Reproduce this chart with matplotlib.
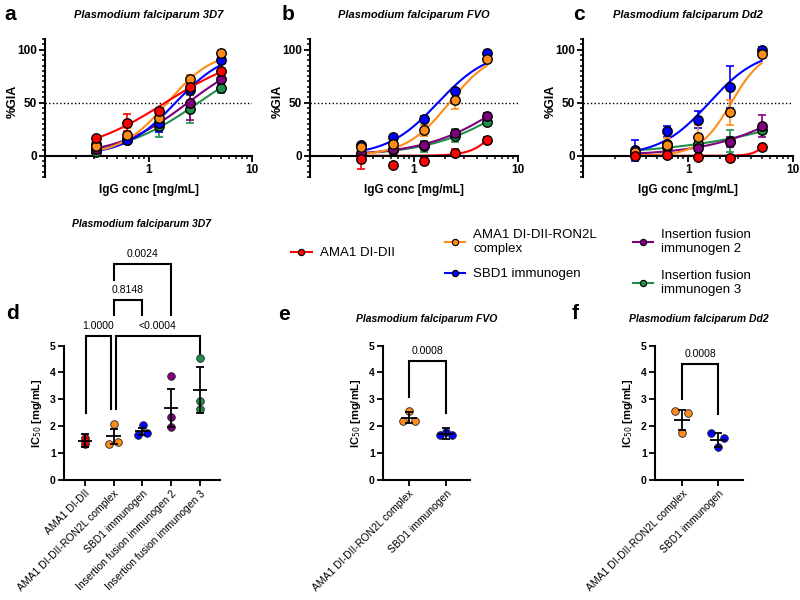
import numpy as np
import matplotlib
matplotlib.use('Agg')
import matplotlib.pyplot as plt
from matplotlib.lines import Line2D
from matplotlib.ticker import FixedLocator, MultipleLocator, NullFormatter

plt.rcParams['font.family'] = ['Liberation Sans', 'DejaVu Sans']

# IgG concentration series used in the GIA [mg/mL]
conc = [0.3125, 0.625, 1.25, 2.5, 5.0]

names = ['AMA1 DI-DII', 'AMA1 DI-DII-RON2L complex', 'SBD1 immunogen',
         'Insertion fusion immunogen 2', 'Insertion fusion immunogen 3']
legend_names = ['AMA1 DI-DII', 'AMA1 DI-DII-RON2L\ncomplex', 'SBD1 immunogen',
                'Insertion fusion\nimmunogen 2', 'Insertion fusion\nimmunogen 3']
colors = ['#ff0000', '#ff8c1a', '#0000ff', '#800080', '#1f8f4a']

# %GIA (mean) and SD, one row per immunogen (same order as names)
gia_3d7 = [[17, 31, 42, 65, 80],
           [9, 20, 36, 72, 97],
           [11, 15, 31, 62, 90],
           [6, 16, 31, 50, 72],
           [4, 15, 28, 44, 64]]
sd_3d7 = [[2, 8, 2, 3, 2],
          [8, 6, 6, 4, 2],
          [4, 3, 9, 4, 3],
          [3, 3, 8, 16, 5],
          [3, 3, 10, 13, 5]]

gia_fvo = [[-3, -9, -5, 3, 15],
           [8, 11, 24, 53, 91],
           [10, 18, 35, 61, 97],
           [3, 6, 10, 21, 37],
           [2, 5, 9, 19, 32]]
sd_fvo = [[9, 2, 3, 3, 3],
          [3, 3, 5, 9, 2],
          [2, 2, 2, 3, 2],
          [2, 2, 3, 3, 3],
          [2, 2, 5, 6, 2]]

gia_dd2 = [[0, 1, -1, -2, 8],
           [4, 10, 18, 41, 96],
           [5, 23, 34, 65, 100],
           [2, 8, 7, 13, 28],
           [3, 11, 11, 14, 24]]
sd_dd2 = [[1, 1, 1, 1, 1],
          [3, 7, 11, 12, 3],
          [10, 5, 8, 20, 2],
          [2, 2, 2, 5, 10],
          [2, 2, 3, 10, 3]]

# IC50 replicates [mg/mL], with the mean and SD shown in the figure
ic50_3d7 = [[1.35, 1.55, 1.45],
            [1.33, 2.07, 1.43],
            [1.67, 2.05, 1.75],
            [3.87, 2.35, 1.97],
            [4.55, 2.95, 2.63]]
ic50_3d7_mean = [1.46, 1.62, 1.81, 2.68, 3.36]
ic50_3d7_sd = [0.24, 0.28, 0.14, 0.72, 0.85]

ic50_fvo = [[2.2, 2.55, 2.2],
            [1.67, 1.8, 1.67]]
ic50_fvo_mean = [2.32, 1.72]
ic50_fvo_sd = [0.2, 0.2]

ic50_dd2 = [[2.58, 1.75, 2.5],
            [1.74, 1.22, 1.55]]
ic50_dd2_mean = [2.24, 1.49]
ic50_dd2_sd = [0.37, 0.25]

# p-values of the comparisons: (left x, right x, top, left foot, right foot, label)
p_3d7 = [(0.03, 0.9, 5.35, 2.49, 2.64, '1.0000'),
         (1.07, 4.0, 5.35, 2.64, 4.6, '<0.0004'),
         (1.0, 2.0, 6.69, 6.13, 6.13, '0.8148'),
         (1.0, 3.0, 8.03, 7.43, 6.13, '0.0024')]
p_fvo = [(0.0, 1.0, 4.43, 3.1, 2.5, '0.0008')]
p_dd2 = [(0.0, 1.0, 4.32, 3.0, 2.45, '0.0008')]


def fit_curve(x, y):
    # log(agonist) vs response, bottom 0 / top 100, grid least squares
    lx = np.log10(np.asarray(x))
    y = np.asarray(y, dtype=float)
    ec = np.linspace(-1, 3, 401)
    hs = np.linspace(0.2, 6, 291)
    E, H = np.meshgrid(ec, hs, indexing='ij')
    pred = 100 / (1 + 10 ** ((E[..., None] - lx) * H[..., None]))
    sse = ((pred - y) ** 2).sum(-1)
    i, j = np.unravel_index(sse.argmin(), sse.shape)
    return ec[i], hs[j]


def gia_panel(ax, values, errs, title):
    xs = np.logspace(np.log10(conc[0]), np.log10(conc[-1]), 200)
    for k in [4, 3, 2, 1, 0]:
        y = values[k]
        ec, h = fit_curve(conc, y)
        ax.plot(xs, 100 / (1 + 10 ** ((ec - np.log10(xs)) * h)),
                color=colors[k], lw=1.5, zorder=2)
        ax.errorbar(conc, y, yerr=errs[k], fmt='none', ecolor=colors[k],
                    elinewidth=1.2, capsize=3, capthick=1.2, zorder=3)
        ax.plot(conc, y, 'o', ms=6.8, mfc=colors[k], mec='black', mew=1,
                zorder=4, clip_on=False)
    ax.axhline(50, color='black', ls=':', lw=1, zorder=1)
    ax.set_xscale('log')
    ax.set_xlim(0.1, 10)
    ax.set_ylim(-20, 110)
    for s in ['top', 'right']:
        ax.spines[s].set_visible(False)
    for s in ['left', 'bottom']:
        ax.spines[s].set_linewidth(1.5)
    ax.spines['bottom'].set_position(('data', 0))
    ax.xaxis.set_major_locator(FixedLocator([1, 10]))
    ax.xaxis.set_minor_locator(FixedLocator([0.2, 0.3, 0.4, 0.5, 0.6, 0.7, 0.8, 0.9,
                                             2, 3, 4, 5, 6, 7, 8, 9]))
    ax.xaxis.set_minor_formatter(NullFormatter())
    ax.set_xticklabels(['1', '10'])
    ax.yaxis.set_major_locator(FixedLocator([0, 50, 100]))
    ax.yaxis.set_minor_locator(MultipleLocator(5))
    ax.tick_params(which='major', length=4, width=1.3, labelsize=8.5, pad=2)
    ax.tick_params(which='minor', length=2.5, width=1.1)
    for lab in ax.get_xticklabels() + ax.get_yticklabels():
        lab.set_fontweight('bold')
    ax.set_ylabel('%GIA', fontsize=9, fontweight='bold')
    ax.yaxis.set_label_coords(-0.125, 0.55)
    ax.set_xlabel('IgG conc [mg/mL]', fontsize=8.5, fontweight='bold')
    ax.xaxis.set_label_coords(0.5, -0.05)
    ax.text(0.5, 1.174, title, transform=ax.transAxes, ha='center', va='center',
            fontsize=8, fontweight='bold', style='italic')


def ic50_panel(ax, groups, vals, means, sds, jitter, pvals, xlim, title, title_y, half):
    for pos, k in enumerate(groups):
        xj = [pos + j for j in jitter[pos]]
        ax.plot(xj, vals[pos], 'o', ms=5.5, mfc=colors[k], mec='#222222', mew=0.6,
                zorder=3, clip_on=False)
        ax.hlines(means[pos], pos - half, pos + half, color='black', lw=1.3, zorder=4)
        ax.errorbar(pos, means[pos], yerr=sds[pos], fmt='none', ecolor='black',
                    elinewidth=1.3, capsize=3, capthick=1.3, zorder=4)
    for x0, x1, top, f0, f1, lab in pvals:
        ax.plot([x0, x0, x1, x1], [f0, top, top, f1], color='black', lw=1.5,
                clip_on=False, solid_joinstyle='miter')
        ax.text((x0 + x1) / 2, top + 0.18, lab, ha='center', va='bottom', fontsize=7.5)
    ax.set_xlim(*xlim)
    ax.set_ylim(0, 5)
    for s in ['top', 'right']:
        ax.spines[s].set_visible(False)
    for s in ['left', 'bottom']:
        ax.spines[s].set_linewidth(1.5)
    ax.set_xticks(range(len(groups)))
    ax.set_xticklabels([names[k] for k in groups], rotation=45, ha='right',
                       rotation_mode='anchor', fontsize=7.5)
    ax.set_yticks([0, 1, 2, 3, 4, 5])
    ax.tick_params(length=4, width=1.3, labelsize=7.5, pad=2)
    for lab in ax.get_yticklabels():
        lab.set_fontweight('bold')
    ax.set_ylabel('IC$_{50}$ [mg/mL]', fontsize=8, fontweight='bold')
    ax.text(0.5, title_y, title, transform=ax.transAxes, ha='center', va='center',
            fontsize=7.5, fontweight='bold', style='italic')


fig = plt.figure(figsize=(8, 6), dpi=100)

ax_a = fig.add_axes([0.05625, 0.705, 0.259, 0.23])
ax_b = fig.add_axes([0.3875, 0.705, 0.26, 0.23])
ax_c = fig.add_axes([0.729, 0.705, 0.2625, 0.23])
gia_panel(ax_a, gia_3d7, sd_3d7, 'Plasmodium falciparum 3D7')
gia_panel(ax_b, gia_fvo, sd_fvo, 'Plasmodium falciparum FVO')
gia_panel(ax_c, gia_dd2, sd_dd2, 'Plasmodium falciparum Dd2')

ax_d = fig.add_axes([0.08, 0.2, 0.195, 0.224])
ax_e = fig.add_axes([0.47875, 0.2, 0.10875, 0.224])
ax_f = fig.add_axes([0.81875, 0.2, 0.11, 0.224])

jit_d = [[0.0, 0.0, 0.0], [-0.15, 0.03, 0.17], [-0.15, 0.03, 0.17],
         [0.0, 0.0, 0.0], [0.0, 0.0, 0.0]]
ic50_panel(ax_d, [0, 1, 2, 3, 4], ic50_3d7, ic50_3d7_mean, ic50_3d7_sd, jit_d,
           p_3d7, (-0.72, 4.69), 'Plasmodium falciparum 3D7', 1.906, 0.25)
jit_e = [[-0.17, 0.0, 0.17], [-0.17, 0.0, 0.17]]
ic50_panel(ax_e, [1, 2], ic50_fvo, ic50_fvo_mean, ic50_fvo_sd, jit_e,
           p_fvo, (-0.70, 1.65), 'Plasmodium falciparum FVO', 1.2, 0.22)
jit_f = [[-0.19, 0.0, 0.17], [-0.19, 0.0, 0.17]]
ic50_panel(ax_f, [1, 2], ic50_dd2, ic50_dd2_mean, ic50_dd2_sd, jit_f,
           p_dd2, (-0.75, 1.69), 'Plasmodium falciparum Dd2', 1.2, 0.22)

# panel letters
for lab, x, y in [('a', 0.006, 0.975), ('b', 0.352, 0.975), ('c', 0.716, 0.975),
                  ('d', 0.008, 0.478), ('e', 0.348, 0.475), ('f', 0.714, 0.478)]:
    fig.text(x, y, lab, fontsize=15, fontweight='bold', va='center', ha='left')

# legend, one entry at a time to follow the original layout
leg_pos = [(0.364, 0.578), (0.556, 0.597), (0.556, 0.543), (0.791, 0.597), (0.791, 0.528)]
for k, (lx, ly) in enumerate(leg_pos):
    h = Line2D([], [], color=colors[k], lw=1.5, marker='o', ms=4.5,
               mfc=colors[k], mec='black', mew=0.8)
    fig.legend(handles=[h], labels=[legend_names[k]], loc='center left',
               bbox_to_anchor=(lx, ly), frameon=False, fontsize=9.5,
               borderpad=0, borderaxespad=0, handlelength=1.55, handletextpad=0.6)

fig.savefig('out.png', dpi=100)
